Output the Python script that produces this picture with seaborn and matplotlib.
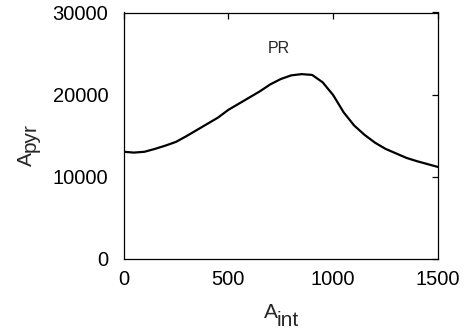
import matplotlib
matplotlib.use("Agg")
import matplotlib.pyplot as plt
import seaborn as sns
import pandas as pd

sns.set_theme(style="white")
plt.rcParams['font.family'] = ['Liberation Sans', 'DejaVu Sans']

a_int = [0, 50, 100, 150, 200, 250, 300, 350, 400, 450, 500, 550, 600, 650,
         700, 750, 800, 850, 900, 950, 1000, 1050, 1100, 1150, 1200, 1250,
         1300, 1350, 1400, 1450, 1500]
a_pyr = [13050, 12950, 13050, 13400, 13800, 14250, 14950, 15700, 16450, 17200,
         18150, 18900, 19650, 20400, 21250, 21900, 22350, 22500, 22400, 21500,
         19950, 17850, 16250, 15100, 14150, 13400, 12850, 12300, 11900, 11550,
         11200]

x_ticks = [0, 500, 1000, 1500]
y_ticks = [0, 10000, 20000, 30000]

df = pd.DataFrame({"A_int": a_int, "A_pyr": a_pyr})

W, H = 469, 332
fig = plt.figure(figsize=(W / 100, H / 100), dpi=100)
ax = fig.add_axes([123.5 / W, 1 - 259 / H, (438 - 123.5) / W, (259 - 12.5) / H])
sns.lineplot(data=df, x="A_int", y="A_pyr", ax=ax, color="black", linewidth=1.6)

ax.set_xlim(0, 1500)
ax.set_ylim(0, 30000)
ax.set_xticks(x_ticks)
ax.set_yticks(y_ticks)
ax.tick_params(direction="in", length=4, width=0.9, top=True, right=True,
               labelsize=14.5, colors="black")
ax.tick_params(axis="x", pad=8)
ax.tick_params(axis="y", pad=11)
for s in ax.spines.values():
    s.set_linewidth(0.9)
    s.set_color("black")
ax.set_xlabel("")
ax.set_ylabel("")

ax.text(743, 25600, "PR", fontsize=11.5, ha="center", va="center")

# x label: A with subscript "int"
fig.text(264 / W, 1 - 318 / H, "A", fontsize=15, ha="left", va="baseline")
fig.text(276.5 / W, 1 - 326 / H, "int", fontsize=15, ha="left", va="baseline")
# y label: A with subscript "pyr", rotated (reads bottom to top)
fig.text(32 / W, 1 - 166 / H, "A", fontsize=15, rotation=90,
         ha="left", va="baseline", rotation_mode="anchor")
fig.text(36 / W, 1 - 151.5 / H, "pyr", fontsize=15, rotation=90,
         ha="left", va="baseline", rotation_mode="anchor")

fig.savefig("out.png", dpi=100)
